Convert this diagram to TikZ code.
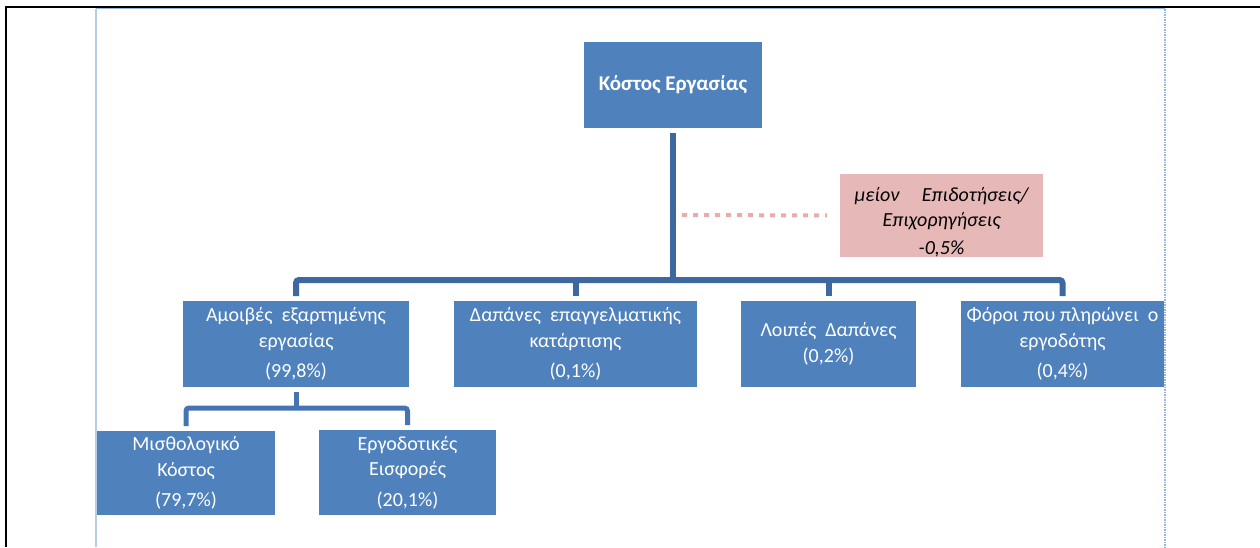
\documentclass[tikz,border=0pt]{standalone}
\usepackage{fontspec}
\setmainfont{Carlito}
\definecolor{boxblue}{RGB}{79,129,189}
\definecolor{connblue}{RGB}{62,105,160}
\definecolor{connblueb}{RGB}{70,116,176}
\definecolor{pinkbox}{RGB}{230,185,184}
\definecolor{pinkdot}{RGB}{232,172,172}
\definecolor{frameblue}{RGB}{184,204,228}
\definecolor{frameblued}{RGB}{150,180,220}
\begin{document}
\begin{tikzpicture}[x=1pt,y=-1pt,
  bluebox/.style={rectangle, fill=boxblue, text=white, inner sep=0pt, outer sep=5pt,
    align=center, font=\fontsize{20}{25.5}\selectfont},
  titlebox/.style={bluebox, font=\fontsize{21}{25}\selectfont\bfseries},
  notebox/.style={rectangle, fill=pinkbox, text=black, inner sep=0pt,
    align=center, font=\fontsize{20}{25}\selectfont\itshape},
  conn/.style={draw=connblue, line width=6pt, rounded corners=3pt},
  connb/.style={draw=connblueb, line width=5pt, rounded corners=3pt},
  dotline/.style={draw=pinkdot, line width=4pt, dash pattern=on 5pt off 6pt}
]
\useasboundingbox (0,0) rectangle (1260,547);
% page frame
\draw[black, line width=2.5pt] (6,547) -- (6,7) -- (1260,7);
\draw[frameblue, line width=2pt] (95.5,9) -- (95.5,547);
\draw[frameblued, line width=1pt] (95.5,8.5) -- (1165,8.5);
\draw[frameblued, line width=1.5pt, dash pattern=on 1.5pt off 1pt] (1165,9) -- (1165,547);

% boxes
\node[titlebox, minimum width=178pt, minimum height=86pt] (top) at (673,85) {Κόστος Εργασίας};
\node[notebox, minimum width=203pt, minimum height=83pt] (note) at (941.5,215.5)
  {\rule{0pt}{28pt}μείον\ \ \ \ \ Επιδοτήσεις/\\ Επιχορηγήσεις\\[3pt] -0,5\%};
\node[bluebox, minimum width=226pt, minimum height=86pt] (amoib) at (296,344)
  {Αμοιβές\ \ εξαρτημένης\\ εργασίας\\[5pt] (99,8\%)};
\node[bluebox, minimum width=243pt, minimum height=86pt] (dap) at (575.5,344)
  {Δαπάνες\ \ επαγγελματικής\\ κατάρτισης\\[5pt] (0,1\%)};
\node[bluebox, minimum width=175pt, minimum height=86pt] (loip) at (828.5,344)
  {Λοιπές\ \ Δαπάνες\\ (0,2\%)};
\node[bluebox, minimum width=203pt, minimum height=86pt] (foroi) at (1062.5,344)
  {Φόροι\ που\ πληρώνει\ \ ο\\ εργοδότης\\[5pt] (0,4\%)};
\node[bluebox, minimum width=178pt, minimum height=84pt] (misth) at (186,473)
  {Μισθολογικό\\ Κόστος\\[5pt] (79,7\%)};
\node[bluebox, minimum width=177pt, minimum height=85pt] (ergod) at (407.5,472.5)
  {Εργοδοτικές\\ Εισφορές\\[5pt] (20,1\%)};

% bus coordinates
\coordinate (bus) at (673,280);
\coordinate (bustwo) at (297,408);
\coordinate (trunkmid) at (673,215);

% connectors
\draw[conn] (top.south) -- (top.south |- bus);
\draw[conn] (amoib.north) -- (amoib.north |- bus) -- (foroi.north |- bus) -- (foroi.north);
\draw[conn] (dap.north) -- (dap.north |- bus);
\draw[conn] (loip.north) -- (loip.north |- bus);
\draw[dotline, shorten <=9pt, shorten >=13pt] (trunkmid) -- (note.west);

\draw[connb] (amoib.south) -- (amoib.south |- bustwo);
\draw[connb] (misth.north) -- (misth.north |- bustwo) -- (ergod.north |- bustwo) -- (ergod.north);
\end{tikzpicture}
\end{document}
